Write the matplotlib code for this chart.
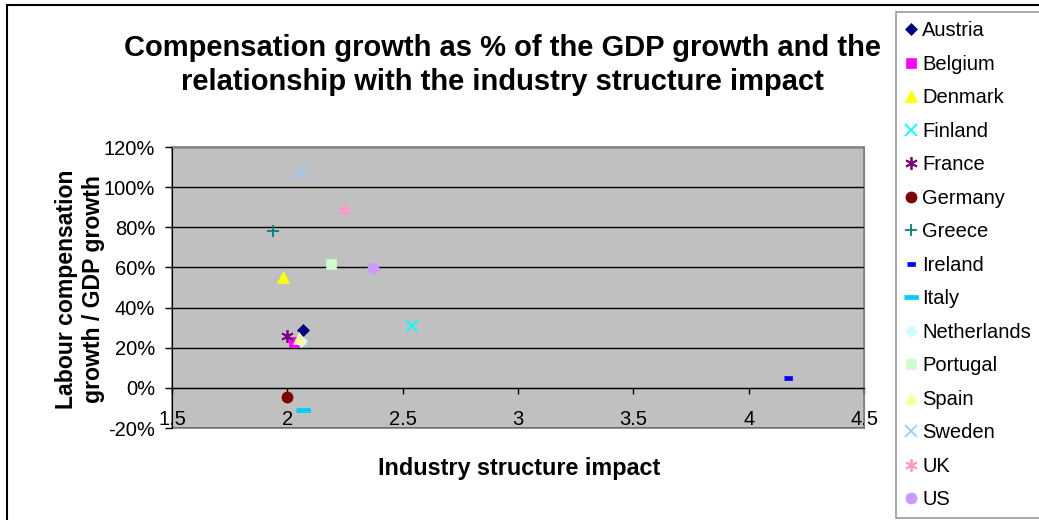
import matplotlib
matplotlib.use("Agg")
import matplotlib.pyplot as plt
from matplotlib.patches import Rectangle
from matplotlib.ticker import FuncFormatter, MultipleLocator

plt.rcParams['font.family'] = ['Liberation Sans', 'DejaVu Sans']

countries = ["Austria", "Belgium", "Denmark", "Finland", "France", "Germany", "Greece",
             "Ireland", "Italy", "Netherlands", "Portugal", "Spain", "Sweden", "UK", "US"]
industry_impact = [2.07, 2.03, 1.98, 2.54, 2.00, 2.00, 1.94,
                   4.17, 2.07, 2.06, 2.19, 2.05, 2.06, 2.25, 2.37]
comp_ratio = [0.29, 0.227, 0.55, 0.31, 0.257, -0.047, 0.78,
              0.048, -0.11, 0.235, 0.615, 0.25, 1.07, 0.885, 0.595]

colors = ["#000080", "#FF00FF", "#FFFF00", "#00FFFF", "#800080", "#800000", "#008080",
          "#0000FF", "#00CCFF", "#CCFFFF", "#CCFFCC", "#FFFF99", "#99CCFF", "#FF99CC", "#CC99FF"]

short_dash = [(-1, -0.45), (1, -0.45), (1, 0.45), (-1, 0.45)]
long_dash = [(-1, -0.28), (1, -0.28), (1, 0.28), (-1, 0.28)]
star = (6, 2, 0)
markers = ["D", "s", "^", "x", star, "o", "+", short_dash, long_dash, "D", "s", "^", "x", star, "o"]
sizes = [6, 7, 8, 8, 9, 8, 8, 6, 10, 6, 7, 8, 8, 9, 8]

fig = plt.figure(figsize=(10.39, 5.2), dpi=100)
ax = fig.add_axes([0.1655, 0.1769, 0.6661, 0.5404])

for name, xv, yv, c, m, s in zip(countries, industry_impact, comp_ratio, colors, markers, sizes):
    line_marker = m in ("x", "+") or m == star
    ax.plot([xv], [yv], linestyle="none", marker=m, markersize=s, color=c,
            markeredgecolor=c, markeredgewidth=1.3 if line_marker else 0.5, label=name)

ax.set_xlim(1.5, 4.5)
ax.set_ylim(-0.2, 1.2)
ax.set_facecolor("#C0C0C0")
ax.patch.set_edgecolor("#808080")
ax.patch.set_linewidth(1.2)

ax.xaxis.set_major_locator(MultipleLocator(0.5))
ax.yaxis.set_major_locator(MultipleLocator(0.2))
ax.xaxis.set_major_formatter(FuncFormatter(lambda v, p: f"{v:g}"))
ax.yaxis.set_major_formatter(FuncFormatter(lambda v, p: f"{v * 100:.0f}%"))

ax.grid(axis="y", color="black", linewidth=1)
ax.set_axisbelow(True)

ax.spines["bottom"].set_position(("data", 0))
ax.spines["bottom"].set_color("black")
ax.spines["left"].set_color("black")
ax.spines["top"].set_color("#808080")
ax.spines["right"].set_color("#808080")

ax.tick_params(axis="x", direction="out", length=4, width=1, pad=12, labelsize=14.5)
ax.tick_params(axis="y", direction="out", length=5, width=1, pad=7, labelsize=14.5)

fig.text(0.484, 0.875, "Compensation growth as % of the GDP growth and the\nrelationship with the industry structure impact",
         ha="center", va="center", fontsize=21, fontweight="bold", linespacing=1.25)
fig.text(0.077, 0.444, "Labour compensation\ngrowth / GDP growth", rotation=90,
         ha="center", va="center", fontsize=16.6, fontweight="bold", linespacing=1.2)
fig.text(0.5, 0.1, "Industry structure impact", ha="center", va="center",
         fontsize=16.8, fontweight="bold")

leg = fig.legend(loc="upper left", bbox_to_anchor=(896 / 1039, 1 - 12 / 520),
                 frameon=True, fancybox=False, edgecolor="#808080", fontsize=14.5,
                 labelspacing=0.72, handlelength=0.6, handletextpad=0.25,
                 borderpad=0.45, borderaxespad=0)
leg.get_frame().set_linewidth(1.2)

fig.patches.append(Rectangle((7 / 1039, -0.1), 1.2, 1 - 5 / 520 + 0.1, transform=fig.transFigure,
                             fill=False, edgecolor="black", linewidth=1.5))

fig.savefig("out.png", dpi=100)
